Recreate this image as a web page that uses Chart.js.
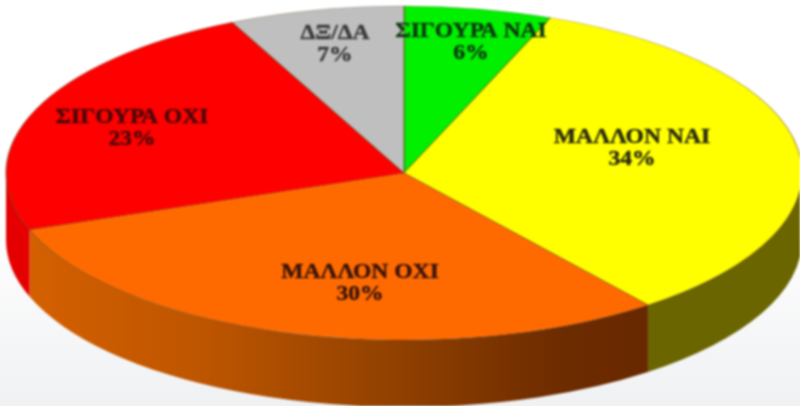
<!DOCTYPE html>
<html>
<head>
<meta charset="utf-8">
<style>
html,body{margin:0;padding:0;width:800px;height:406px;overflow:hidden;background:linear-gradient(180deg,#ffffff 0%,#ffffff 55%,#f0f1f3 100%);}
canvas{display:block;filter:blur(0.8px);}
</style>
<script src="https://cdn.jsdelivr.net/npm/chart.js@4"></script>
</head>
<body>
<canvas id="c" width="800" height="406"></canvas>
<script>
const categories = ['ΣΙΓΟΥΡΑ ΝΑΙ','ΜΑΛΛΟΝ ΝΑΙ','ΜΑΛΛΟΝ ΟΧΙ','ΣΙΓΟΥΡΑ ΟΧΙ','ΔΞ/ΔΑ'];
const sliceShares = [6,33.5,30,23.4,7.1];
const percentLabels = ['6%','34%','30%','23%','7%'];
const topColors = ['#00f000','#ffff00','#ff6a00','#ff0000','#bfbfbf'];
const labelColors = ['#0c3a10','#2a2a10','#3a1408','#4a0808','#3a3a3a'];

// layout of the tilted disc, in pixels
const disc = {cx:404, cy:173, rx:398, ry:167, depth:67};
const labelAnchors = [[471,32],[632,138],[360,273],[132,118],[335,34]];
const labelLineGap = 22;
const textStretch = 1.18;

function wallPaint(ctx, i){
  if(i===1) return '#6b6500';
  if(i===3) return '#e40000';
  if(i===2){
    const g = ctx.createLinearGradient(30,0,650,0);
    g.addColorStop(0,'#d46000');
    g.addColorStop(0.28,'#bd5500');
    g.addColorStop(0.6,'#8f4000');
    g.addColorStop(0.85,'#6e2c00');
    g.addColorStop(1,'#682800');
    return g;
  }
  return null;
}

const tiltPlugin = {
  id:'tilt',
  beforeDatasetsDraw(chart){
    const ctx = chart.ctx;
    const arcs = chart.getDatasetMeta(0).data;
    arcs.forEach((arc,i)=>{
      const a0 = Math.max(arc.startAngle,0), a1 = Math.min(arc.endAngle,Math.PI);
      if(a1<=a0) return;
      const paint = wallPaint(ctx,i);
      if(!paint) return;
      ctx.save();
      ctx.beginPath();
      ctx.ellipse(disc.cx,disc.cy,disc.rx,disc.ry,0,a0,a1);
      ctx.ellipse(disc.cx,disc.cy+disc.depth,disc.rx,disc.ry,0,a1,a0,true);
      ctx.closePath();
      ctx.fillStyle = paint;
      ctx.fill();
      ctx.restore();
    });
  },
  beforeDatasetDraw(chart){
    const ctx = chart.ctx;
    const arc = chart.getDatasetMeta(0).data[0];
    const R = arc.outerRadius;
    ctx.save();
    ctx.translate(disc.cx,disc.cy);
    ctx.scale(disc.rx/R,disc.ry/R);
    ctx.translate(-arc.x,-arc.y);
  },
  afterDatasetDraw(chart){ chart.ctx.restore(); },
  afterDraw(chart){
    const ctx = chart.ctx;
    ctx.textAlign='center';
    ctx.textBaseline='middle';
    ctx.font='bold 20px "Liberation Serif"';
    ctx.lineWidth=0.4;
    categories.forEach((name,i)=>{
      const [x,y] = labelAnchors[i];
      ctx.save();
      ctx.translate(x,y);
      ctx.scale(textStretch,1);
      ctx.fillStyle = labelColors[i];
      ctx.strokeStyle = labelColors[i];
      ctx.fillText(name,0,0);
      ctx.strokeText(name,0,0);
      ctx.fillText(percentLabels[i],0,labelLineGap);
      ctx.strokeText(percentLabels[i],0,labelLineGap);
      ctx.restore();
    });
  }
};

new Chart(document.getElementById('c'),{
  type:'pie',
  data:{labels:categories,datasets:[{data:sliceShares,backgroundColor:topColors,borderColor:'rgba(90,50,0,0.4)',borderWidth:0.8,hoverOffset:0}]},
  options:{
    responsive:false,
    animation:false,
    rotation:0,
    layout:{padding:0},
    plugins:{legend:{display:false},tooltip:{enabled:false},title:{display:false}}
  },
  plugins:[tiltPlugin]
});
</script>
</body>
</html>
